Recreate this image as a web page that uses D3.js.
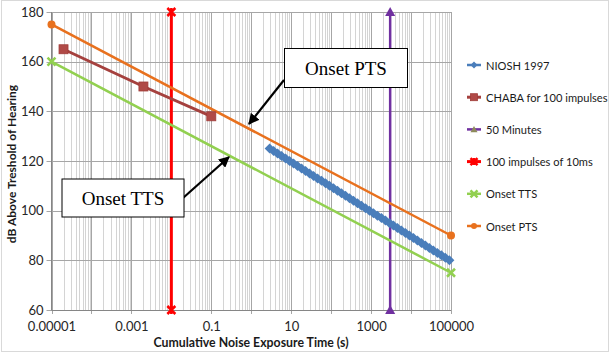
<!DOCTYPE html>
<html>
<head>
<meta charset="utf-8">
<script src="https://cdn.jsdelivr.net/npm/d3@7"></script>
<style>
  body { margin: 0; background: #fff; }
  svg { display: block; font-family: Lato, "Open Sans", sans-serif; }
</style>
</head>
<body>
<svg id="chart" width="610" height="353"></svg>
<script>
// tick labels
const xTickValues = [1e-5, 1e-3, 1e-1, 10, 1000, 100000];
const xTickLabels = ["0.00001", "0.001", "0.1", "10", "1000", "100000"];
const yTickValues = [60, 80, 100, 120, 140, 160, 180];

// NIOSH 1997 (1 dB steps, 85 dBA / 8 h, 3 dB exchange)
const nioshTime = [2.88, 3.63, 4.56, 5.74, 7.23, 9.11, 11.47, 14.44, 18.18, 22.89,
  28.8, 36.26, 45.65, 57.47, 72.35, 91.07, 114.7, 144.4, 181.7, 228.8,
  288, 362.6, 456.5, 574.7, 723.5, 910.7, 1146.5, 1443.4, 1817.1, 2287.6,
  2880, 3625.7, 4564.6, 5746.5, 7234.5, 9107.5, 11465.7, 14434.4, 18171.6, 22876.5,
  28800, 36256.7, 45644.3, 57463.2, 72342.2, 91073.3];
const nioshLevel = [125, 124, 123, 122, 121, 120, 119, 118, 117, 116,
  115, 114, 113, 112, 111, 110, 109, 108, 107, 106,
  105, 104, 103, 102, 101, 100, 99, 98, 97, 96,
  95, 94, 93, 92, 91, 90, 89, 88, 87, 86,
  85, 84, 83, 82, 81, 80];

const chabaTime = [2e-5, 0.002, 0.1];
const chabaLevel = [165, 150, 138];

const fiftyMinTime = [3000, 3000];
const fiftyMinLevel = [60, 180];

const impulseTime = [0.01, 0.01];
const impulseLevel = [60, 180];

const ttsTime = [1e-5, 1e5];
const ttsLevel = [160, 75];

const ptsTime = [1e-5, 1e5];
const ptsLevel = [175, 90];

const seriesNames = ["NIOSH 1997", "CHABA for 100 impulses", "50 Minutes",
  "100 impulses of 10ms", "Onset TTS", "Onset PTS"];

const svg = d3.select("#chart");

const x = d3.scaleLog().domain([1e-5, 1e5]).range([51.5, 451]);
const y = d3.scaleLinear().domain([60, 180]).range([310, 12]);

//outer chart border
svg.append("rect").attr("x", 1.5).attr("y", 0.5).attr("width", 607).attr("height", 351)
  .attr("fill", "none").attr("stroke", "#d9d9d9");

//vertical gridlines: minor ones first, then the decades on top
const allTicks = x.ticks(20);
const decade = d => Math.abs(Math.log10(d) - Math.round(Math.log10(d))) < 1e-9;
svg.append("g").selectAll("line").data(allTicks.filter(d => !decade(d))).join("line")
  .attr("x1", d => Math.round(x(d)) + 0.5).attr("x2", d => Math.round(x(d)) + 0.5)
  .attr("y1", y(180)).attr("y2", y(60))
  .attr("stroke", "#d4d4d4").attr("stroke-width", 1);
svg.append("g").selectAll("line").data(allTicks.filter(decade)).join("line")
  .attr("x1", d => Math.round(x(d)) + 0.5).attr("x2", d => Math.round(x(d)) + 0.5)
  .attr("y1", y(180)).attr("y2", y(60) + 4)
  .attr("stroke", "#a6a6a6").attr("stroke-width", 1);

//horizontal gridlines
svg.append("g").selectAll("line").data(yTickValues).join("line")
  .attr("x1", x(1e-5) - 5).attr("x2", x(1e5))
  .attr("y1", d => Math.round(y(d)) + 0.5).attr("y2", d => Math.round(y(d)) + 0.5)
  .attr("stroke", "#a6a6a6").attr("stroke-width", 1);

//axis lines
svg.append("line").attr("x1", 51.5).attr("x2", 51.5).attr("y1", y(180)).attr("y2", y(60))
  .attr("stroke", "#868686");
svg.append("line").attr("x1", 51.5).attr("x2", x(1e5)).attr("y1", Math.round(y(60)) + 0.5).attr("y2", Math.round(y(60)) + 0.5)
  .attr("stroke", "#868686");

//axes (labels only, the lines are drawn above)
const xAxis = svg.append("g").attr("transform", "translate(0," + (y(60) + 4) + ")")
  .call(d3.axisBottom(x).tickValues(xTickValues).tickSize(0).tickPadding(8)
    .tickFormat((d, i) => xTickLabels[i]));
const yAxis = svg.append("g").attr("transform", "translate(" + (51.5 - 4) + ",0)")
  .call(d3.axisLeft(y).tickValues(yTickValues).tickSize(0).tickPadding(4));
[xAxis, yAxis].forEach(a => {
  a.select(".domain").remove();
  a.selectAll("text").attr("font-size", 13).attr("fill", "#262626")
    .attr("font-family", "Lato, 'Open Sans', sans-serif");
});

//axis titles
svg.append("text").attr("x", 251).attr("y", 347).attr("text-anchor", "middle")
  .attr("font-size", 12.3).attr("font-weight", "bold").attr("fill", "#1a1a1a")
  .text("Cumulative Noise Exposure Time (s)");
svg.append("text").attr("transform", "translate(16,164) rotate(-90)").attr("text-anchor", "middle")
  .attr("font-size", 12).attr("font-weight", "bold").attr("fill", "#1a1a1a")
  .text("dB Above Treshold of Hearing");

const line = d3.line().x(d => x(d[0])).y(d => y(d[1]));
const zipped = (t, l) => t.map((d, i) => [d, l[i]]);

//marker shapes drawn as paths around 0,0
function marker(g, type, color, s) {
  if (type === "diamond") {
    g.append("path").attr("d", "M0," + (-s) + "L" + s + ",0L0," + s + "L" + (-s) + ",0Z").attr("fill", color);
  } else if (type === "square") {
    g.append("rect").attr("x", -s).attr("y", -s).attr("width", 2 * s).attr("height", 2 * s).attr("fill", color)
      .attr("stroke", "#a03c39").attr("stroke-width", 0.8);
  } else if (type === "triangle") {
    g.append("path").attr("d", "M0," + (-s) + "L" + s + "," + (s * 0.8) + "L" + (-s) + "," + (s * 0.8) + "Z").attr("fill", color);
  } else if (type === "star") {
    g.append("path").attr("d", "M" + (-s) + "," + (-s) + "L" + s + "," + s + "M" + s + "," + (-s) + "L" + (-s) + "," + s + "M0," + (-s) + "L0," + s)
      .attr("stroke", color).attr("stroke-width", 2.5);
  } else if (type === "x") {
    g.append("path").attr("d", "M" + (-s) + "," + (-s) + "L" + s + "," + s + "M" + s + "," + (-s) + "L" + (-s) + "," + s)
      .attr("stroke", color).attr("stroke-width", 2.5);
  } else if (type === "circle") {
    g.append("circle").attr("r", s).attr("fill", color);
  }
}

const series = [
  {name: seriesNames[0], data: zipped(nioshTime, nioshLevel), color: "#4a7ebb", width: 2.5, mark: "diamond", size: 5, markColor: "#4a7ebb"},
  {name: seriesNames[1], data: zipped(chabaTime, chabaLevel), color: "#a5413e", width: 3, mark: "square", size: 4.5, markColor: "#b04a47"},
  {name: seriesNames[2], data: zipped(fiftyMinTime, fiftyMinLevel), color: "#7030a0", width: 2.5, mark: "triangle", size: 5, markColor: "#7030a0"},
  {name: seriesNames[3], data: zipped(impulseTime, impulseLevel), color: "#ff0000", width: 3, mark: "star", size: 4, markColor: "#ff0000"},
  {name: seriesNames[4], data: zipped(ttsTime, ttsLevel), color: "#92d050", width: 2.5, mark: "x", size: 4, markColor: "#92d050"},
  {name: seriesNames[5], data: zipped(ptsTime, ptsLevel), color: "#e8711e", width: 2.5, mark: "circle", size: 4, markColor: "#e8711e"}
];

//draw order close to the reference: reference lines, onsets, chaba, niosh
const drawOrder = [3, 2, 4, 5, 1, 0];
drawOrder.forEach(k => {
  const s = series[k];
  svg.append("path").datum(s.data).attr("d", line).attr("fill", "none")
    .attr("stroke", s.color).attr("stroke-width", s.width);
  s.data.forEach(d => {
    const g = svg.append("g").attr("transform", "translate(" + x(d[0]) + "," + y(d[1]) + ")");
    marker(g, s.mark, s.markColor, s.size);
  });
});

//legend
const legend = svg.append("g");
series.forEach((s, i) => {
  const ly = 65 + i * 32.2;
  legend.append("line").attr("x1", 467).attr("x2", 481).attr("y1", ly).attr("y2", ly)
    .attr("stroke", s.color).attr("stroke-width", s.width);
  const g = legend.append("g").attr("transform", "translate(474," + ly + ")");
  if (s.mark === "triangle") marker(g, "triangle", "#8d8a5c", 3.5);
  else marker(g, s.mark, s.markColor, s.mark === "circle" ? 3 : 3.5);
  legend.append("text").attr("x", 486).attr("y", ly + 4.5).attr("font-size", 11.1)
    .attr("fill", "#1a1a1a").text(s.name);
});

//annotation boxes with arrows
svg.append("defs").append("marker").attr("id", "head").attr("viewBox", "0 0 10 10")
  .attr("refX", 9).attr("refY", 5).attr("markerWidth", 5).attr("markerHeight", 5)
  .attr("orient", "auto").append("path").attr("d", "M0,0L10,5L0,10Z").attr("fill", "#000");

function callout(bx, by, bw, bh, label, ax1, ay1, ax2, ay2) {
  svg.append("line").attr("x1", ax1).attr("y1", ay1).attr("x2", ax2).attr("y2", ay2)
    .attr("stroke", "#000").attr("stroke-width", 2.2).attr("marker-end", "url(#head)");
  svg.append("rect").attr("x", bx).attr("y", by).attr("width", bw).attr("height", bh)
    .attr("fill", "#fff").attr("stroke", "#000").attr("stroke-width", 1);
  svg.append("text").attr("x", bx + bw / 2).attr("y", by + bh / 2 + 6.5).attr("text-anchor", "middle")
    .attr("font-family", "'Liberation Serif', 'Times New Roman', serif").attr("font-size", 19)
    .attr("fill", "#000").text(label);
}
callout(284.5, 48.5, 123, 39, "Onset PTS", 284, 80, 249, 124);
callout(62, 179, 122, 38, "Onset TTS", 183, 198, 229, 157);
</script>
</body>
</html>
